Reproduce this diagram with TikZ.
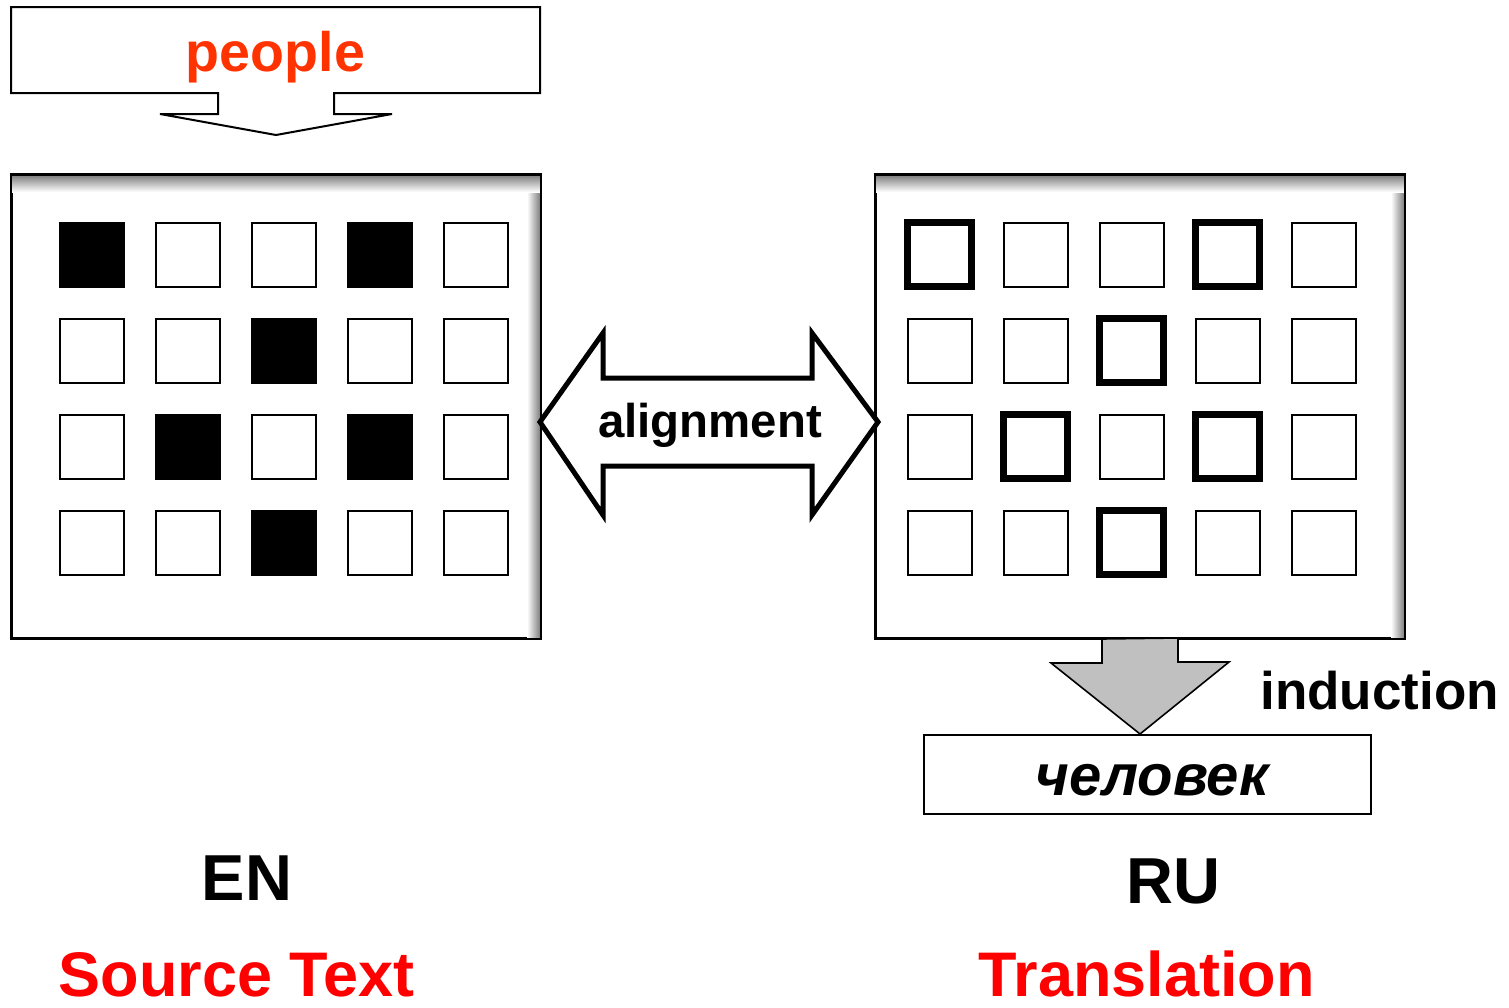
\documentclass[tikz,border=0pt]{standalone}
\usepackage{fontspec}
\setmainfont{Liberation Sans}
\definecolor{wordred}{HTML}{FF3300}
\definecolor{labelred}{HTML}{FF0000}
\definecolor{arrowgray}{HTML}{C0C0C0}
\begin{document}
\begin{tikzpicture}[x=0.5pt,y=-0.5pt,
  panel/.style={draw=black,line width=1pt,fill=white,rectangle,inner sep=0pt,
                minimum width=264pt,minimum height=231.5pt},
  cell/.style={draw=black,line width=1pt,fill=white,rectangle,inner sep=0pt,minimum size=32pt},
  filledcell/.style={cell,fill=black},
  boldcell/.style={cell,line width=3.5pt,minimum size=32pt},
  txt/.style={inner sep=0pt,anchor=base,font=\bfseries},
]
\useasboundingbox (0,0) rectangle (1509,1007);

% panels with an inner shadow along the top and right edges
\node[panel] (L) at (275.5,406.5) {};
\node[panel] (R) at (1140,406.5) {};
\foreach \p/\xa/\xb in {L/11/540,R/876/1404}{
  \shade[left color=white,right color=black!50] (\xb-13,176) rectangle (\xb,637);
  \shade[top color=black!48,bottom color=white] (\xa,176) rectangle (\xb,192);
  \draw[line width=1pt] (\p.north west) rectangle (\p.south east);
}

% word grids: filled cells on the source side, bold cells on the target side
\foreach \r in {1,...,4}{
  \foreach \c in {1,...,5}{
    \node[cell] (L-\r-\c) at (91.5+96*\c-96,254.5+96*\r-96) {};
    \node[cell] (R-\r-\c) at (939.5+96*\c-96,254.5+96*\r-96) {};
  }
}
\foreach \r/\c in {1/1,1/4,2/3,3/2,3/4,4/3}{
  \node[filledcell] at (L-\r-\c) {};
  \node[boldcell] at (R-\r-\c) {};
}

% query box with callout pointer
\draw[line width=1pt,fill=white]
  (11,7) -- (540,7) -- (540,93) -- (334,93) -- (334,114) -- (392,114)
  -- (276,135) -- (160,114) -- (218,114) -- (218,93) -- (11,93) -- cycle;
\node[txt,text=wordred,font=\bfseries\fontsize{27.8}{32}\selectfont] (query) at (275.5,71) {people};

% alignment double arrow between the two grids
\coordinate (ltip) at (540,422);
\coordinate (rtip) at (878,422);
\draw[line width=2.5pt,line join=miter,fill=white]
  (ltip) -- (603,333) -- (603,378) -- (812,378) -- (812,333) -- (rtip)
  -- (812,515) -- (812,466) -- (603,466) -- (603,515) -- cycle;
\node[txt,font=\bfseries\fontsize{23.7}{28}\selectfont] (align) at (710,437) {alignment};

% induction arrow and target word
\node[draw=black,line width=1pt,fill=white,rectangle,inner sep=0pt,
      minimum width=223.5pt,minimum height=39.5pt] (ru) at (1147.5,774.5) {};
\draw[line width=0.8pt,fill=arrowgray]
  (R.south) ++(-38,0) -- ++(0,24) -- ++(-51,0) -- (ru.north -| R.south)
  -- ++(89,-72) -- ++(-51,0) -- ++(0,-24) -- cycle;
\node[txt,anchor=base west,font=\bfseries\fontsize{26.5}{30}\selectfont] (ind) at (1260,709) {induction};
\node[txt,font=\bfseries\itshape\fontsize{29}{32}\selectfont] (ruword) at (1152,795) {человек};

% language labels
\node[txt,font=\bfseries\fontsize{32.5}{36}\selectfont] (en) at (247,900) {EN};
\node[txt,font=\bfseries\fontsize{32.5}{36}\selectfont] (rul) at (1173,903) {RU};
\node[txt,text=labelred,font=\bfseries\fontsize{31.5}{36}\selectfont] (src) at (236.5,996) {Source Text};
\node[txt,text=labelred,font=\bfseries\fontsize{31.5}{36}\selectfont] (tr) at (1146.5,996) {Translation};
\end{tikzpicture}
\end{document}
